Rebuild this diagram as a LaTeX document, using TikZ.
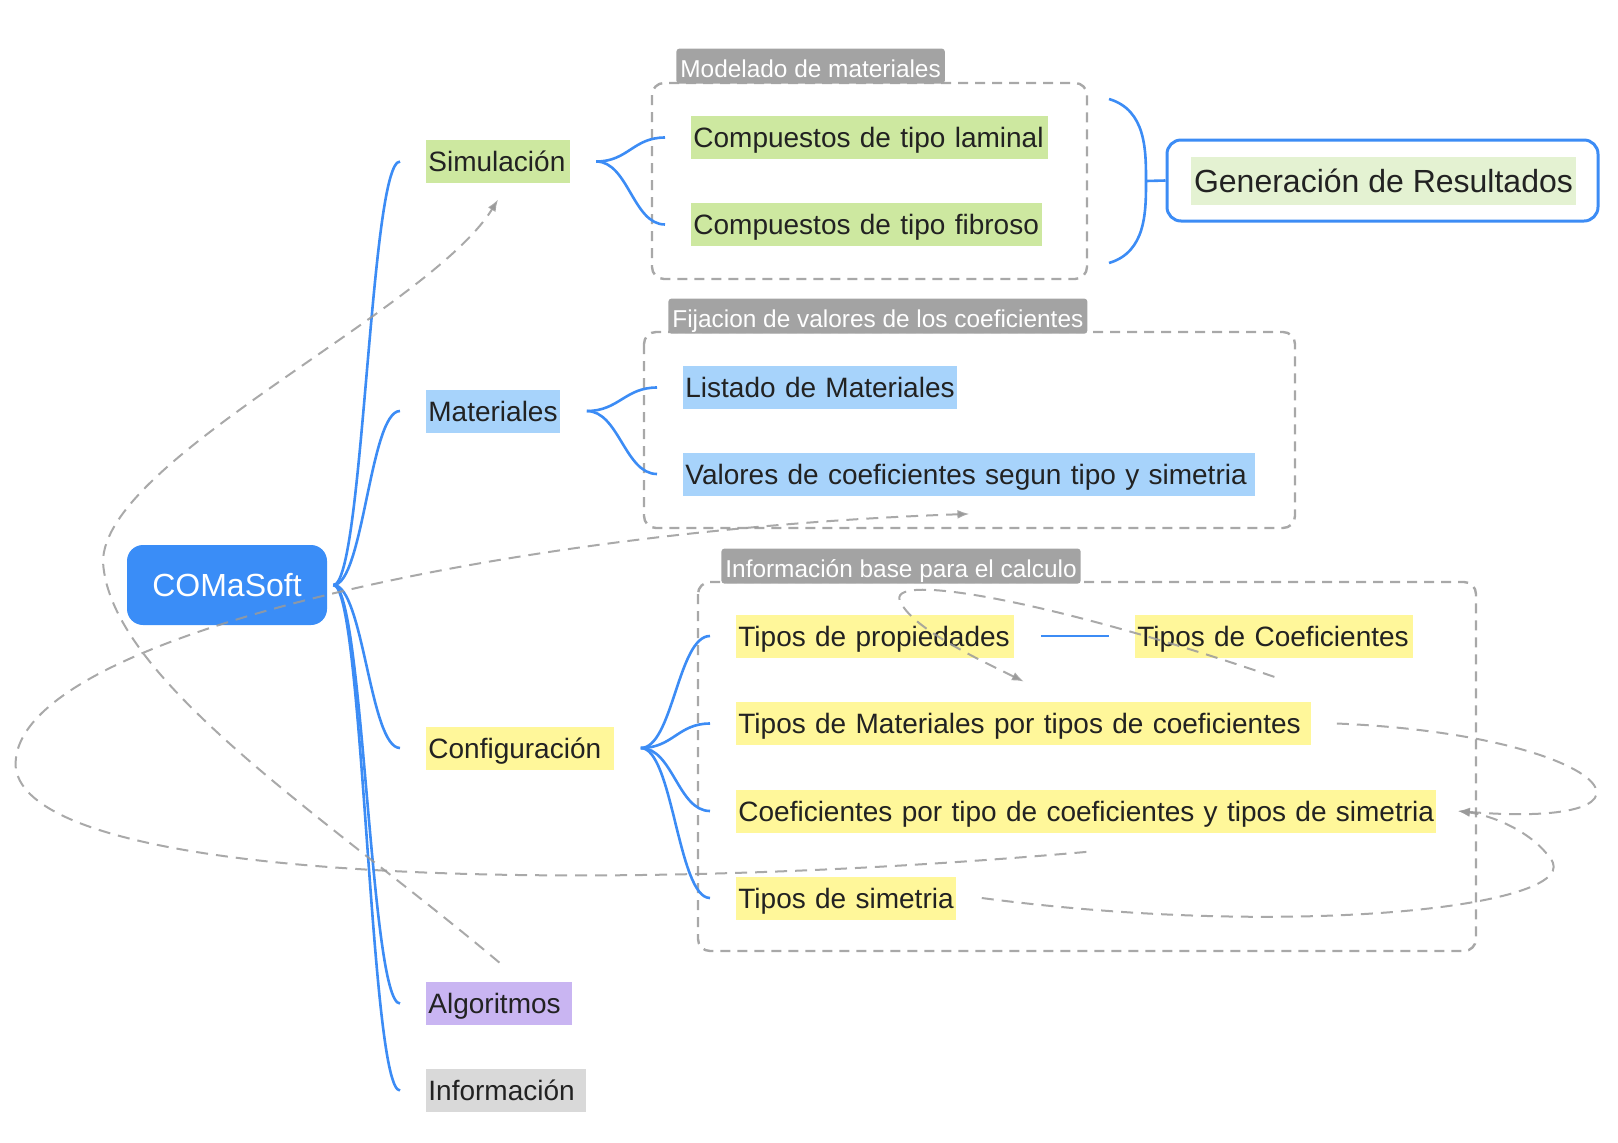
\documentclass[tikz,border=0pt]{standalone}
\usepackage{fontspec}
\setmainfont{Liberation Sans}
\usetikzlibrary{arrows.meta}

\definecolor{rootblue}{HTML}{3A8DF7}
\definecolor{lineblue}{HTML}{3C8CF5}
\definecolor{simgreen}{HTML}{CDE8A0}
\definecolor{genfill}{HTML}{E4F2D2}
\definecolor{matblue}{HTML}{A7D3FB}
\definecolor{confyellow}{HTML}{FFF79A}
\definecolor{algpurple}{HTML}{C9B5F2}
\definecolor{infogray}{HTML}{D9D9D9}
\definecolor{labelgray}{HTML}{A3A3A3}
\definecolor{framegray}{HTML}{A8A8A8}
\definecolor{relgray}{HTML}{9A9A9A}
\definecolor{txt}{HTML}{222222}

\begin{document}
\begin{tikzpicture}[x=0.5pt,y=-0.5pt,
  every node/.style={font=\fontsize{14}{16}\selectfont, text=txt},
  root/.style={fill=rootblue, rounded corners=8pt, text=white,
    font=\fontsize{16}{18}\selectfont, minimum width=100pt, minimum height=40pt},
  topic/.style={anchor=west, align=left, inner xsep=1pt, inner ysep=0pt, minimum height=21.5pt,
    text height=13pt, text depth=3pt},
  grouplabel/.style={fill=labelgray, text=white, anchor=south west, rounded corners=1.5pt,
    font=\fontsize{12.2}{14}\selectfont, inner xsep=2pt, inner ysep=0pt, minimum height=17.5pt,
    text height=14.5pt, text depth=2.8pt},
  frame/.style={draw=framegray, line width=1.2pt, dash pattern=on 5pt off 3.5pt, rounded corners=6pt},
  branch/.style={draw=lineblue, line width=1.3pt},
  relation/.style={draw=relgray, draw opacity=.85, line width=1pt, dash pattern=on 6pt off 4pt,
    -{Latex[length=6pt,width=4.5pt]}},
]
\useasboundingbox (0,0) rectangle (1618,1142);

% dashed groups
\draw[frame] (652,83) rectangle (1087,279);
\draw[frame] (644,332) rectangle (1295,528);
\draw[frame] (698,582) rectangle (1476,951);
\node[grouplabel] (lblmodel) at (676,84) {Modelado de materiales};
\node[grouplabel] (lblfix) at (668,334) {Fijacion de valores de los coeficientes};
\node[grouplabel] (lblbase) at (721,584) {Información base para el calculo};

% central topic and main branches
\node[root] (root) at (227,585) {COMaSoft};
\node[topic, fill=simgreen, text width=69.7pt] (sim) at (426,161.5) {Simulación};
\node[topic, fill=matblue, text width=65pt] (mat) at (426,411) {Materiales};
\node[topic, fill=confyellow, text width=92pt] (conf) at (426,748) {Configuración};
\node[topic, fill=algpurple, text width=71pt] (alg) at (426,1003.5) {Algoritmos};
\node[topic, fill=infogray, text width=78pt] (info) at (426,1090.5) {Información};

\foreach \c in {sim,mat,conf,alg,info}
  \draw[branch] ([xshift=3pt]root.east) .. controls +(15pt,0) and +(-15pt,0) .. ([xshift=-13pt]\c.west);

% leaves
\node[topic, fill=simgreen, text width=176.5pt] (lam) at (691,137.5) {Compuestos de tipo laminal};
\node[topic, fill=simgreen, text width=173.5pt] (fib) at (691,224.5) {Compuestos de tipo fibroso};
\node[topic, fill=matblue, text width=135pt] (lis) at (683,387.5) {Listado de Materiales};
\node[topic, fill=matblue, text width=284pt] (val) at (683,474) {Valores de coeficientes segun tipo y simetria};
\node[topic, fill=confyellow, text width=137pt] (prop) at (736,636) {Tipos de propiedades};
\node[topic, fill=confyellow, text width=137pt] (coef) at (1135,636) {Tipos de Coeficientes};
\node[topic, fill=confyellow, text width=285.5pt] (tmat) at (736,723.5) {Tipos de Materiales por tipos de coeficientes};
\node[topic, fill=confyellow, text width=348pt] (cpt) at (736,811) {Coeficientes por tipo de coeficientes y tipos de simetria};
\node[topic, fill=confyellow, text width=108pt] (tsim) at (736,898) {Tipos de simetria};

\foreach \p/\c in {sim/lam,sim/fib,mat/lis,mat/val,conf/prop,conf/tmat,conf/cpt,conf/tsim}
  \draw[branch] ([xshift=13pt]\p.east) .. controls +(16pt,0) and +(-16pt,0) .. ([xshift=-13pt]\c.west);
\draw[branch] ([xshift=13pt]prop.east) -- ([xshift=-13pt]coef.west);

% summary
\node[draw=lineblue, line width=1.5pt, rounded corners=7pt, minimum width=215.5pt,
  minimum height=40.5pt] (genframe) at (1382.5,180.5) {};
\node[fill=genfill, font=\fontsize{16}{18}\selectfont, inner sep=0pt, minimum width=192.5pt,
  minimum height=24pt] (gen) at (1383.5,181) {Generación de Resultados};
\draw[branch] (1109,99) .. controls (1146,110) and (1146,150) .. (1146,181)
  .. controls (1146,212) and (1146,252) .. (1109,263);
\draw[branch] (1146,181) -- (genframe.west);

% relationships
\draw[relation] ([yshift=9.5pt]alg.north) .. controls (330,820) and (110,680) .. (103,562)
  .. controls (103,460) and (430,310) .. ([yshift=-8pt]sim.south);
\draw[relation] ([yshift=-9.5pt]cpt.south) .. controls (600,895) and (40,885) .. (16,770)
  .. controls (0,640) and (500,530) .. ([yshift=-9pt]val.south);
\draw[relation] ([yshift=-9.5pt]coef.south) .. controls (1050,600) and (880,570) .. (901,603)
  .. controls (915,630) and (980,660) .. ([yshift=10pt]tmat.north);
\draw[relation] ([xshift=12.5pt]tmat.east) .. controls (1610,735) and (1690,830) .. ([xshift=10.5pt]cpt.east);
\draw[relation] ([xshift=12.5pt]tsim.east) .. controls (1300,940) and (1590,905) .. (1550,858)
  .. controls (1530,830) and (1490,815) .. ([xshift=10.5pt]cpt.east);
\end{tikzpicture}
\end{document}
